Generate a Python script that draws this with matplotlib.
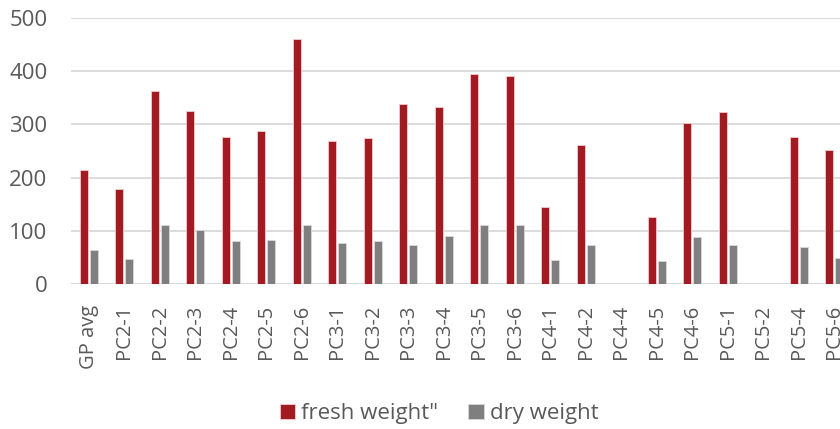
import numpy as np
import matplotlib.pyplot as plt

plt.rcParams['font.family'] = ['Open Sans', 'DejaVu Sans']

categorias = ["GP avg", "PC2-1", "PC2-2", "PC2-3", "PC2-4", "PC2-5", "PC2-6",
              "PC3-1", "PC3-2", "PC3-3", "PC3-4", "PC3-5", "PC3-6",
              "PC4-1", "PC4-2", "PC4-4", "PC4-5", "PC4-6",
              "PC5-1", "PC5-2", "PC5-4", "PC5-6"]
# peso fresco y peso seco (0 = sin barra)
fresh_weight = [215, 178, 362, 325, 277, 287, 461,
                269, 274, 339, 332, 395, 391,
                144, 261, 0, 126, 303,
                324, 0, 277, 252]
dry_weight = [63, 47, 111, 101, 80, 82, 111,
              78, 81, 74, 91, 110, 110,
              45, 74, 0, 44, 88,
              73, 0, 69, 49]

rojo = '#A31B22'
gris = '#7F7F7F'
texto = '#595959'

fig = plt.figure(figsize=(8.4, 4.29), dpi=100)
# el eje sigue un poco fuera de la imagen, como en el original
ax = fig.add_axes([71/840, 145/429, 781/840, 266/429])

x = np.arange(len(categorias))
ancho = 0.22
ax.bar(x - 0.145, fresh_weight, ancho, color=rojo, edgecolor='#F2C9CC', linewidth=0.6,
       label='fresh weight"', zorder=3)
ax.bar(x + 0.145, dry_weight, ancho, color=gris, edgecolor='#D9D9D9', linewidth=0.6,
       label='dry weight', zorder=3)

ax.set_xlim(-0.5, len(categorias) - 0.5)
ax.set_ylim(0, 500)
ax.set_yticks(range(0, 501, 100))
ax.set_xticks(x)
ax.set_xticklabels(categorias, rotation=90, fontsize=14.5, color=texto)
ax.tick_params(axis='y', length=0, pad=17, labelsize=16, labelcolor=texto)
ax.tick_params(axis='x', length=0, pad=15)

ax.grid(axis='y', color='#D9D9D9', linewidth=1.3, zorder=0)
for s in ax.spines.values():
    s.set_visible(False)
ax.axhline(0, color='#D9D9D9', linewidth=1.3, zorder=2)

fig.legend(loc='center', bbox_to_anchor=(0.523, 0.036), ncol=2, frameon=False,
           fontsize=16, labelcolor=texto, handlelength=0.68, handleheight=0.68,
           handletextpad=0.3, columnspacing=1.35, borderpad=0)

fig.savefig('out.png', dpi=100)
